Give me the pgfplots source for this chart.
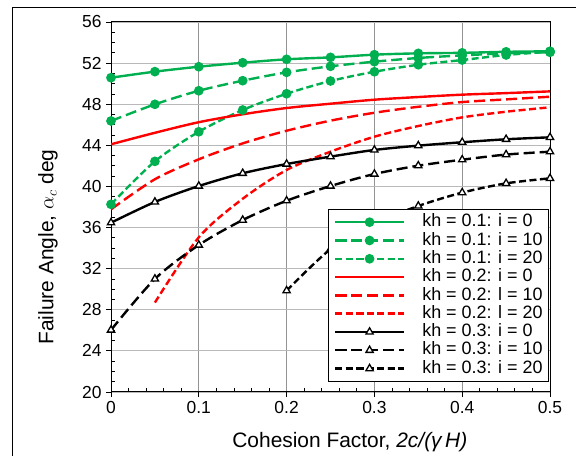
\documentclass[border=0pt]{standalone}
\usepackage{pgfplots}
\pgfplotsset{compat=1.18}
\usepackage{fontspec}
\setmainfont{Liberation Sans}
\definecolor{xlgreen}{HTML}{00B050}
\definecolor{xlred}{HTML}{FF0000}
\begin{document}
\begin{tikzpicture}
\useasboundingbox (0,0) rectangle (576bp,456bp);
\draw[black, line width=0.8bp] (12bp,0) -- (12bp,449bp) -- (576bp,449bp);
\begin{axis}[
  at={(111bp,64bp)}, anchor=south west,
  scale only axis, width=439bp, height=370bp,
  xmin=0, xmax=0.5, ymin=20, ymax=56,
  xtick={0,0.1,0.2,0.3,0.4,0.5},
  xticklabels={0,0.1,0.2,0.3,0.4,0.5},
  ytick={20,24,28,32,36,40,44,48,52,56},
  minor x tick num=4, minor y tick num=3,
  tick pos=left,
  tick align=outside,
  major tick length=5bp, minor tick length=-4bp,
  every tick/.style={black, line width=0.8bp},
  axis line style={black, line width=1bp},
  grid=major,
  major x grid style={gray!85, line width=0.7bp},
  major y grid style={gray!55, line width=0.9bp},
  /pgf/number format/assume math mode=true,
  ticklabel style={font=\fontsize{17.5}{20}\selectfont},
  xticklabel style={yshift=-1bp},
  yticklabel style={xshift=-1bp},
  xlabel={Cohesion Factor, \textit{2c/(γ\,H)}},
  ylabel={Failure Angle, $\alpha_c$ deg},
  label style={font=\fontsize{21}{24}\selectfont},
  xlabel style={at={(axis description cs:0.544,-0.135)}, anchor=center},
  ylabel style={at={(axis description cs:-0.1435,0.392)}, anchor=center, rotate=0},
  legend style={at={(rel axis cs:0.9977,0.028)}, anchor=south east,
    draw=black, line width=0.8bp, fill=white,
    font=\fontsize{18}{20}\selectfont, row sep=0bp, column sep=16bp,
    inner xsep=5bp, inner ysep=3.5bp,
    nodes={text height=12.8bp, text depth=3.5bp, inner sep=1bp},
    cells={anchor=west}},
  legend image code/.code={\draw[mark repeat=2,mark phase=2,#1] plot coordinates {(0bp,0bp) (34.5bp,0bp) (69bp,0bp)};},
  every axis plot/.append style={line width=2.4bp, smooth},
]
% kh = 0.1
\addplot[xlgreen, mark=*, mark size=3.6bp, mark options={solid}] coordinates {
(0,50.58)(0.05,51.17)(0.1,51.65)(0.15,52.04)(0.2,52.37)(0.25,52.56)(0.3,52.82)(0.35,52.95)(0.4,53.0)(0.45,53.1)(0.5,53.15)};
\addlegendentry{kh = 0.1: i = 0}
\addplot[xlgreen, dash pattern=on 11bp off 5bp, mark=*, mark size=3.6bp, mark options={solid}] coordinates {
(0,46.37)(0.05,47.99)(0.1,49.31)(0.15,50.29)(0.2,51.1)(0.25,51.69)(0.3,52.14)(0.35,52.5)(0.4,52.75)(0.45,52.95)(0.5,53.05)};
\addlegendentry{kh = 0.1: i = 10}
\addplot[xlgreen, dash pattern=on 7bp off 3.5bp, mark=*, mark size=3.6bp, mark options={solid}] coordinates {
(0,38.26)(0.05,42.44)(0.1,45.32)(0.15,47.44)(0.2,49.02)(0.25,50.26)(0.3,51.16)(0.35,51.84)(0.4,52.3)(0.45,52.79)(0.5,53.11)};
\addlegendentry{kh = 0.1: i = 20}
% kh = 0.2
\addplot[xlred] coordinates {
(0,44.1)(0.05,45.22)(0.1,46.25)(0.15,47.02)(0.2,47.63)(0.25,48.05)(0.3,48.44)(0.35,48.7)(0.4,48.93)(0.45,49.08)(0.5,49.25)};
\addlegendentry{kh = 0.2: i = 0}
\addplot[xlred, dash pattern=on 11bp off 5bp] coordinates {
(0,37.77)(0.05,40.7)(0.1,42.64)(0.15,44.19)(0.2,45.42)(0.25,46.4)(0.3,47.17)(0.35,47.75)(0.4,48.21)(0.45,48.47)(0.5,48.73)};
\addlegendentry{kh = 0.2: l = 10}
\addplot[xlred, dash pattern=on 7bp off 3.5bp] coordinates {
(0.05,28.7)(0.1,35.05)(0.15,38.8)(0.2,41.6)(0.25,43.38)(0.3,44.84)(0.35,45.88)(0.4,46.72)(0.45,47.27)(0.5,47.7)};
\addlegendentry{kh = 0.2: l = 20}
% kh = 0.3
\addplot[black, mark=triangle*, mark size=4.2bp, mark options={solid, fill=white, line width=1.3bp}] coordinates {
(0,36.47)(0.05,38.49)(0.1,40.04)(0.15,41.28)(0.2,42.18)(0.25,42.9)(0.3,43.55)(0.35,43.97)(0.4,44.3)(0.45,44.59)(0.5,44.78)};
\addlegendentry{kh = 0.3: i = 0}
\addplot[black, dash pattern=on 11bp off 5bp, mark=triangle*, mark size=4.2bp, mark options={solid, fill=white, line width=1.3bp}] coordinates {
(0,26.03)(0.05,31.0)(0.1,34.3)(0.15,36.73)(0.2,38.61)(0.25,40.04)(0.3,41.21)(0.35,42.02)(0.4,42.6)(0.45,43.1)(0.5,43.38)};
\addlegendentry{kh = 0.3: i = 10}
\addplot[black, dash pattern=on 7bp off 3.5bp, mark=triangle*, mark size=4.2bp, mark options={solid, fill=white, line width=1.3bp}] coordinates {
(0.2,29.86)(0.25,33.9)(0.3,36.4)(0.35,38.1)(0.4,39.4)(0.45,40.3)(0.5,40.79)};
\addlegendentry{kh = 0.3: i = 20}
\end{axis}
\end{tikzpicture}
\end{document}
